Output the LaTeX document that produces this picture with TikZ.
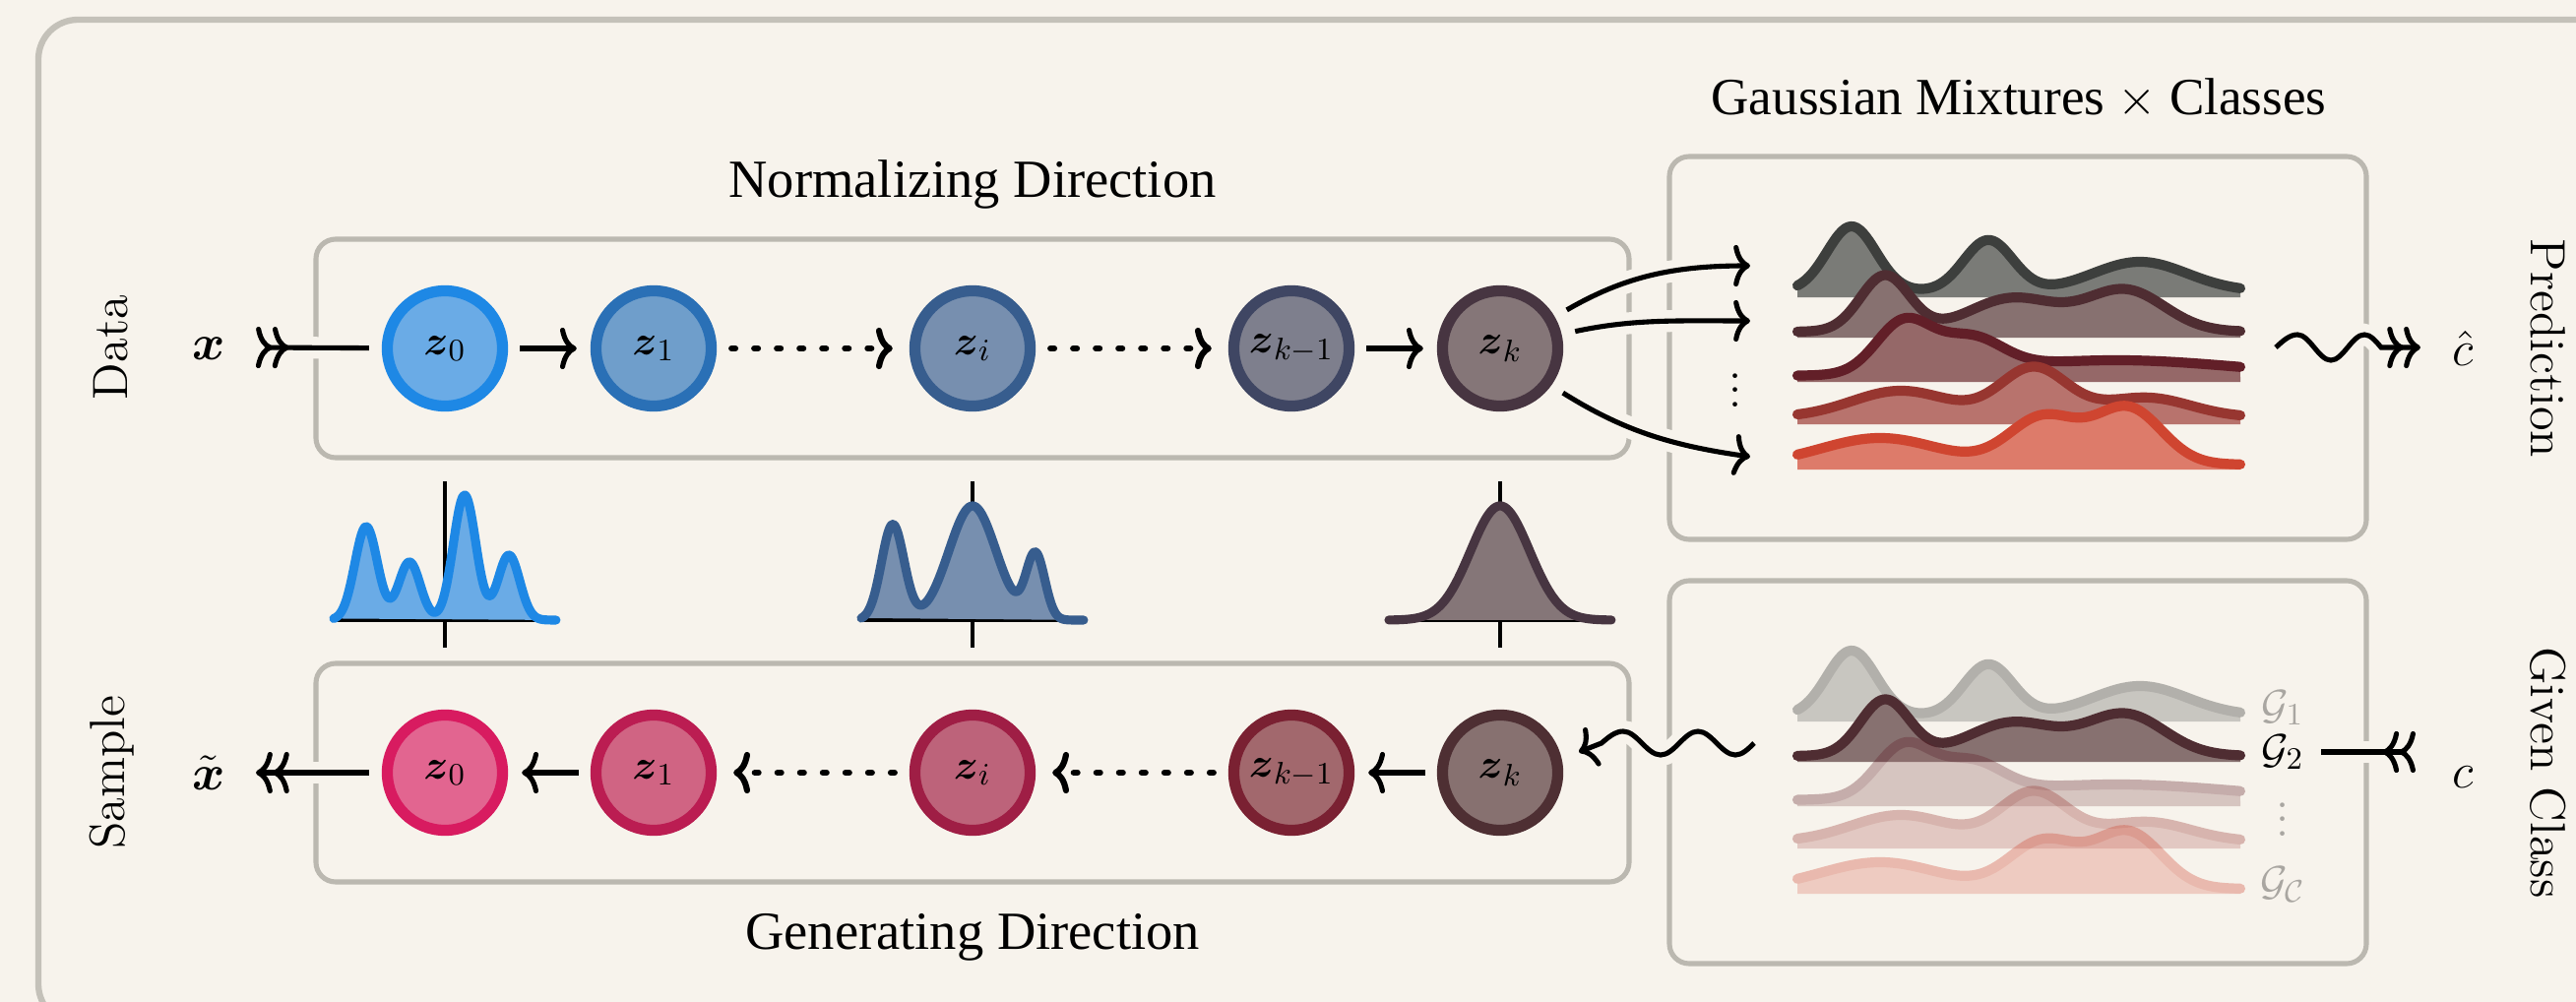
\documentclass[tikz,border=0pt]{standalone}
\usepackage{amsmath}
\usepackage{fontspec}
\newfontfamily\garafont{Liberation Serif}
\usetikzlibrary{arrows.meta}

\definecolor{bgc}{HTML}{F7F3EC}
\definecolor{framec}{HTML}{C4C1B9}
\definecolor{boxc}{HTML}{BBB8B0}
\definecolor{ta0f}{HTML}{6AABE6}\definecolor{ta0d}{HTML}{1E88E5}
\definecolor{ta1f}{HTML}{6F9ECB}\definecolor{ta1d}{HTML}{2A70B6}
\definecolor{taif}{HTML}{778FAF}\definecolor{taid}{HTML}{375D8E}
\definecolor{tamf}{HTML}{7E7F8D}\definecolor{tamd}{HTML}{3F4663}
\definecolor{takf}{HTML}{857678}\definecolor{takd}{HTML}{473541}
\definecolor{tb0f}{HTML}{E26590}\definecolor{tb0d}{HTML}{D81B60}
\definecolor{tb1f}{HTML}{D06483}\definecolor{tb1d}{HTML}{BB1D52}
\definecolor{tbif}{HTML}{BD637A}\definecolor{tbid}{HTML}{9F1E45}
\definecolor{tbmf}{HTML}{A2686D}\definecolor{tbmd}{HTML}{7A2132}
\definecolor{tbkf}{HTML}{877170}\definecolor{tbkd}{HTML}{4E2F33}
\definecolor{r1l}{HTML}{3D3F3D}\definecolor{r1f}{HTML}{7A7B77}
\definecolor{r2l}{HTML}{4F2D32}\definecolor{r2f}{HTML}{877170}
\definecolor{r3l}{HTML}{621F28}\definecolor{r3f}{HTML}{956868}
\definecolor{r4l}{HTML}{973630}\definecolor{r4f}{HTML}{B8736D}
\definecolor{r5l}{HTML}{CF4530}\definecolor{r5f}{HTML}{DD7B6A}
\definecolor{gl}{HTML}{A9A6A1}

\tikzset{
  zn/.style={circle, inner sep=0pt, minimum size=1.17cm, line width=3.2pt, font=\fontsize{12.5}{15}\selectfont},
  arr/.style={line width=1.45pt, -{Computer Modern Rightarrow[length=4.8pt,width=12pt]}},
  darr/.style={line width=1.45pt, -{Computer Modern Rightarrow[length=4.8pt,width=12pt] Computer Modern Rightarrow[length=4.8pt,width=12pt]}},
  tailarr/.style={line width=1.45pt, {Computer Modern Rightarrow[length=4.8pt,width=12pt,reversed] Computer Modern Rightarrow[length=4.8pt,width=12pt,reversed]}-},
  dotline/.style={line width=1.75pt, line cap=round, dash pattern=on 1.1pt off 5.45pt},
  halo/.style={preaction={draw=bgc, line width=6.3pt, arrows=-, solid}},
  boxst/.style={draw=boxc, line width=1.45pt, rounded corners=0.2cm},
  lbl/.style={font=\fontsize{14.3}{17}\selectfont},
  dirlbl/.style={font=\garafont\fontsize{15.5}{18}\selectfont},
  mlbl/.style={font=\fontsize{13.7}{16}\selectfont},
  glbl/.style={font=\fontsize{12.5}{15}\selectfont, inner sep=0pt},
  axisl/.style={black, line width=1.2pt},
  dline/.style={line width=2.6pt, line cap=round, line join=round},
  mline/.style={line width=2.9pt, line cap=round, line join=round},
}

\newcommand\mixrow[4]{%
  \fill[#4] plot[domain=0:4.5,samples=150] ({1826+100*\x},{-#1+#2(\x)}) -- (2276,{-#1-2}) -- (1826,{-#1-2}) -- cycle;
  \draw[#3, mline] plot[domain=0:4.5,samples=150] ({1826+100*\x},{-#1+#2(\x)});
}

\begin{document}
\begin{tikzpicture}[x=0.01cm,y=0.01cm,
  declare function={
    gau(\gx,\gm,\gs)=exp(-min(((\gx-\gm)/\gs)^2/2,9));
    dista(\dx)=95*gau(\dx,-0.80,0.115)+59*gau(\dx,-0.36,0.11)+127*gau(\dx,0.20,0.115)+66*gau(\dx,0.65,0.11);
    distb(\dx)=97*gau(\dx,-0.81,0.115)+116*gau(\dx,0,0.24)+66*gau(\dx,0.64,0.095);
    distc(\dx)=116*gau(\dx,0,0.30);
    mixa(\dx)=4+66*gau(\dx,0.55,0.25)+52*gau(\dx,1.94,0.25)+30*gau(\dx,3.48,0.48);
    mixb(\dx)=4+57*gau(\dx,0.89,0.25)+34*gau(\dx,2.19,0.45)+42*gau(\dx,3.33,0.40);
    mixc(\dx)=4+52*gau(\dx,1.08,0.28)+32*gau(\dx,1.76,0.32)+16*gau(\dx,3.24,1.2);
    mixd(\dx)=5+27*gau(\dx,1.05,0.5)+50*gau(\dx,2.40,0.34)+20*gau(\dx,3.54,0.45);
    mixe(\dx)=3+27*gau(\dx,0.84,0.6)+48*gau(\dx,2.50,0.35)+57*gau(\dx,3.36,0.34);
  }]
\useasboundingbox (0,0) rectangle (2617,-1018);
\clip (0,0) rectangle (2617,-1018);
\fill[bgc] (0,0) rectangle (2617,-1018);

% outer frame
\draw[framec, line width=1.8pt, rounded corners=0.4cm] (39,-20) rectangle (2680,-1040);

% boxes
\draw[boxst] (321,-243) rectangle (1655,-465);
\draw[boxst] (321,-674) rectangle (1655,-896);
\draw[boxst] (1696,-159) rectangle (2404,-548);
\draw[boxst] (1696,-590) rectangle (2404,-979);

% titles
\node[dirlbl, anchor=base] (tnorm) at (988,-200) {Normalizing Direction};
\node[dirlbl, anchor=base] (tgen) at (988,-964) {Generating Direction};
\node[dirlbl, anchor=base, font=\garafont\fontsize{15.1}{18}\selectfont] (tgmm) at (2051,-116) {Gaussian Mixtures $\times$ Classes};

\node[lbl, rotate=90] (ldata) at (113,-353) {Data};
\node[lbl, rotate=90] (lsample) at (114,-785) {Sample};
\node[lbl, rotate=-90] (lpred) at (2589,-354) {Prediction};
\node[lbl, rotate=-90] (lgiven) at (2589,-785) {Given Class};

\node[mlbl, anchor=base] (lx) at (212,-365) {$\boldsymbol{x}$};
\node[mlbl, anchor=base] (lxt) at (212,-802) {$\tilde{\boldsymbol{x}}$};
\node[mlbl, anchor=base] (lch) at (2502,-371) {$\hat{c}$};
\node[mlbl, anchor=base] (lc) at (2502,-800) {$c$};

% density plots
\draw[axisl] (452,-489) -- (452,-658);
\draw[axisl] (339,-630) -- (565,-630);
\fill[ta0f] plot[domain=-1.13:1.13,samples=160] ({452+100*\x},{-630+dista(\x)}) -- cycle;
\draw[ta0d, dline] plot[domain=-1.13:1.13,samples=160] ({452+100*\x},{-630+dista(\x)});

\draw[axisl] (988,-489) -- (988,-658);
\draw[axisl] (875,-630) -- (1101,-630);
\fill[taif] plot[domain=-1.13:1.13,samples=160] ({988+100*\x},{-630+distb(\x)}) -- cycle;
\draw[taid, dline] plot[domain=-1.13:1.13,samples=160] ({988+100*\x},{-630+distb(\x)});

\draw[axisl] (1524,-489) -- (1524,-658);
\draw[axisl] (1411,-630) -- (1637,-630);
\fill[takf] plot[domain=-1.13:1.13,samples=160] ({1524+100*\x},{-630+distc(\x)}) -- cycle;
\draw[takd, dline] plot[domain=-1.13:1.13,samples=160] ({1524+100*\x},{-630+distc(\x)});

% mixtures (top)
\mixrow{300}{mixa}{r1l}{r1f}
\mixrow{341}{mixb}{r2l}{r2f}
\mixrow{386}{mixc}{r3l}{r3f}
\mixrow{429}{mixd}{r4l}{r4f}
\mixrow{475}{mixe}{r5l}{r5f}

% mixtures (bottom)
\begin{scope}[transparency group, opacity=0.37]\mixrow{731}{mixa}{r1l}{r1f}\end{scope}
\mixrow{772}{mixb}{r2l}{r2f}
\begin{scope}[transparency group, opacity=0.33]\mixrow{817}{mixc}{r3l}{r3f}\end{scope}
\begin{scope}[transparency group, opacity=0.33]\mixrow{860}{mixd}{r4l}{r4f}\end{scope}
\begin{scope}[transparency group, opacity=0.33]\mixrow{906}{mixe}{r5l}{r5f}\end{scope}

\node[mlbl, anchor=base] (vd) at (1763,-413) {$\vdots$};
\node[glbl, text=gl] (g1) at (2319,-719) {$\mathcal{G}_1$};
\node[glbl] (g2) at (2319,-764) {$\mathcal{G}_2$};
\node[mlbl, anchor=base, text=gl] (gvd) at (2319,-849) {$\vdots$};
\node[glbl, text=gl] (gC) at (2319,-899) {$\mathcal{G}_{\mathcal{C}}$};

% flow nodes
\node[zn, draw=ta0d, fill=ta0f] (a0) at (452,-354) {$\boldsymbol{z}_0$};
\node[zn, draw=ta1d, fill=ta1f] (a1) at (664,-354) {$\boldsymbol{z}_1$};
\node[zn, draw=taid, fill=taif] (ai) at (988,-354) {$\boldsymbol{z}_i$};
\node[zn, draw=tamd, fill=tamf] (am) at (1312,-354) {$\boldsymbol{z}_{k-1}$};
\node[zn, draw=takd, fill=takf] (ak) at (1524,-354) {$\boldsymbol{z}_k$};

\node[zn, draw=tb0d, fill=tb0f] (b0) at (452,-785) {$\boldsymbol{z}_0$};
\node[zn, draw=tb1d, fill=tb1f] (b1) at (664,-785) {$\boldsymbol{z}_1$};
\node[zn, draw=tbid, fill=tbif] (bi) at (988,-785) {$\boldsymbol{z}_i$};
\node[zn, draw=tbmd, fill=tbmf] (bm) at (1312,-785) {$\boldsymbol{z}_{k-1}$};
\node[zn, draw=tbkd, fill=tbkf] (bk) at (1524,-785) {$\boldsymbol{z}_k$};

% connectors top
\coordinate (xt) at (260,-353);
\draw[tailarr, halo, shorten >=0.13cm] (xt) -- (a0);
\draw[arr, shorten <=0.12cm, shorten >=0.14cm] (a0) -- (a1);
\draw[arr, dotline, shorten <=0.15cm, shorten >=0.17cm] (a1) -- (ai);
\draw[arr, dotline, shorten <=0.15cm, shorten >=0.17cm] (ai) -- (am);
\draw[arr, shorten <=0.12cm, shorten >=0.14cm] (am) -- (ak);

\coordinate (m1) at (1778,-270);
\coordinate (m2) at (1778,-326);
\coordinate (m3) at (1778,-464);
\draw[arr, halo, shorten <=0.14cm] (ak.30) to[out=30, in=180] (m1);
\draw[arr, halo, shorten <=0.14cm] (ak.13) to[out=12, in=180] (m2);
\draw[arr, halo, shorten <=0.14cm] (ak.-36) to[out=-32, in=172] (m3);

\coordinate (wt) at (2312,-353);
\coordinate (ptip) at (2459,-353);
\draw[darr, halo] (wt) sin ++(22,13) cos ++(17,-13) sin ++(17,-13) cos ++(17,13) sin ++(17,13) cos ++(17,-13) -- (ptip);

% connectors bottom
\coordinate (xbt) at (260,-785);
\draw[darr, halo, shorten <=0.13cm] (b0) -- (xbt);
\draw[arr, shorten <=0.12cm, shorten >=0.14cm] (b1) -- (b0);
\draw[arr, dotline, shorten <=0.15cm, shorten >=0.17cm] (bi) -- (b1);
\draw[arr, dotline, shorten <=0.15cm, shorten >=0.17cm] (bm) -- (bi);
\draw[arr, shorten <=0.12cm, shorten >=0.14cm] (bk) -- (bm);

\coordinate (wb) at (1782,-755);
\coordinate (wbt) at (1604,-764);
\draw[arr, halo] (wb) sin ++(-19,-12) cos ++(-19,12) sin ++(-19,12) cos ++(-19,-12) sin ++(-19,-12) cos ++(-19,12) sin ++(-19,12) cos ++(-22,-12) -- (wbt);

\coordinate (ct) at (2454,-764);
\draw[tailarr, halo, shorten >=0.17cm] (ct) -- (g2.east);
\end{tikzpicture}
\end{document}
